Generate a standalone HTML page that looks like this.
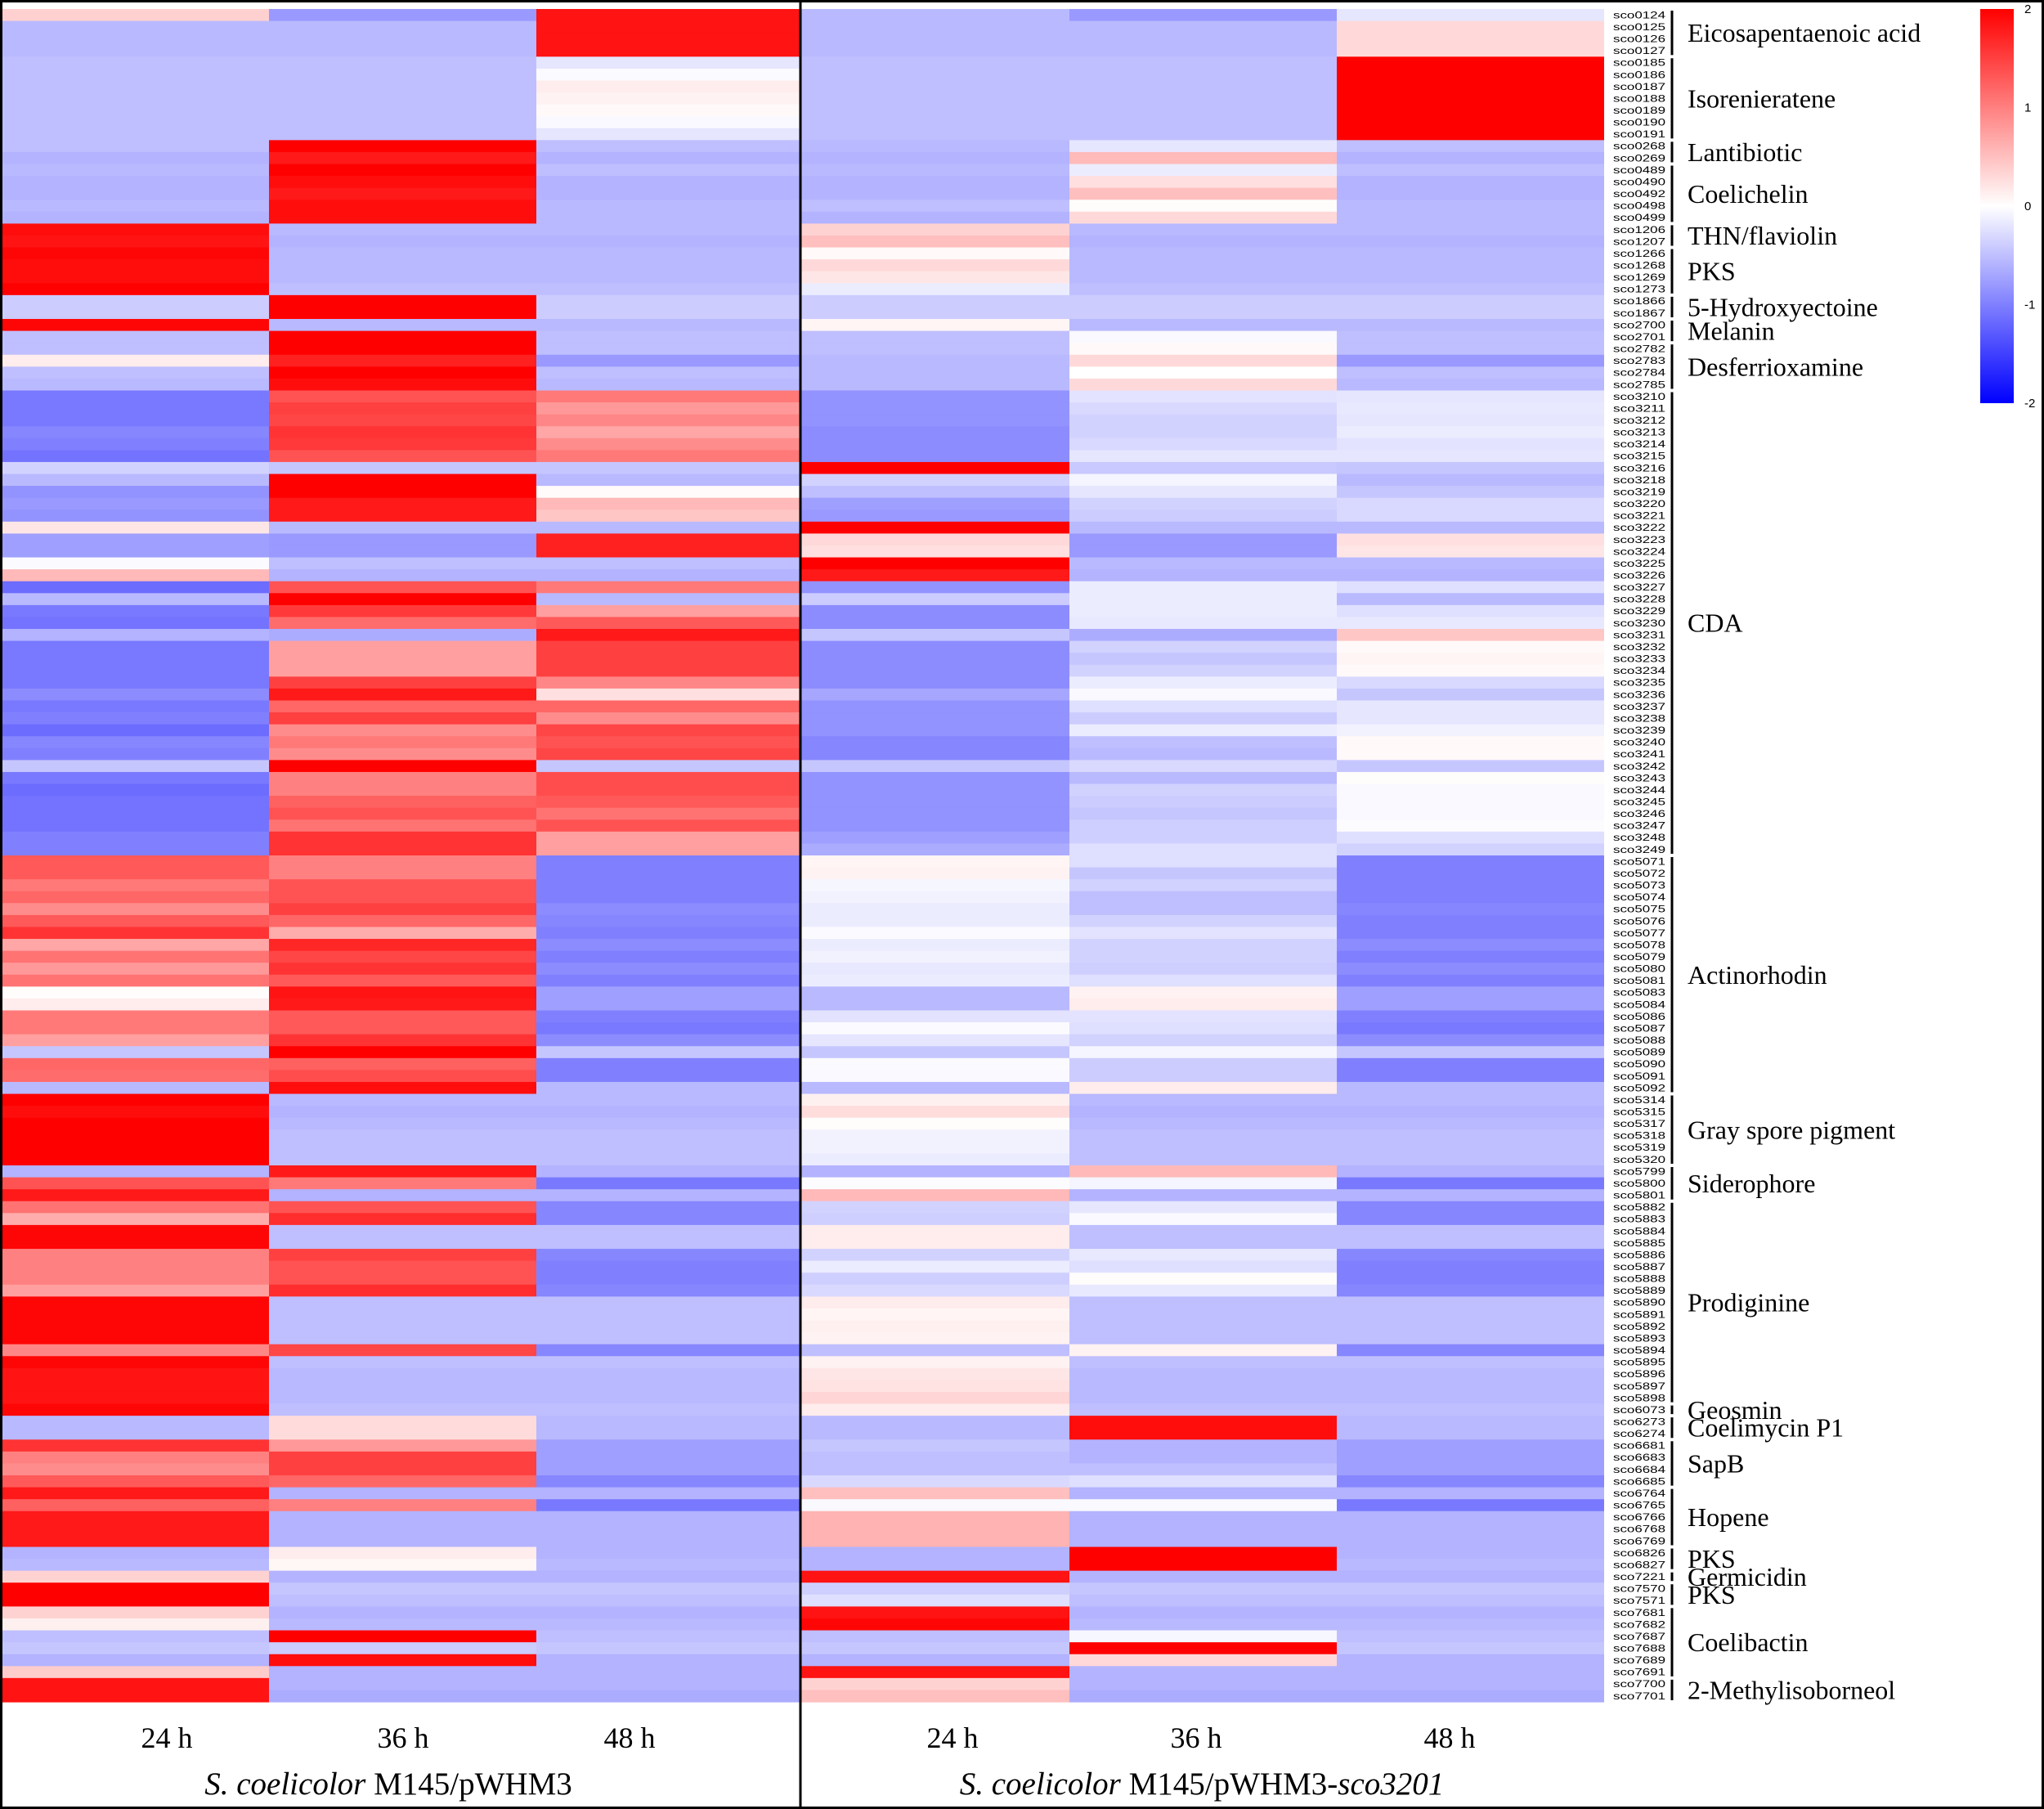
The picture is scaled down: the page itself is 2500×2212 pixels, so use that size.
<!DOCTYPE html>
<html><head><meta charset="utf-8"><style>
html,body{margin:0;padding:0;background:#fff;}
svg{display:block;}
</style></head><body>
<svg id="chart" width="2500" height="2212" viewBox="0 0 2500 2212" xmlns="http://www.w3.org/2000/svg" font-family="Liberation Serif, serif">
<rect x="1.5" y="1.5" width="2497" height="2209" fill="#fff" stroke="#000" stroke-width="3"/>
<g id="cells"></g>
<g id="genes"></g>
<g id="groups"></g>
<line x1="979" y1="0" x2="979" y2="2212" stroke="#000" stroke-width="3"/>
<defs><linearGradient id="cb" x1="0" y1="0" x2="0" y2="1">
<stop offset="0" stop-color="#ff0000"/><stop offset="0.5" stop-color="#ffffff"/><stop offset="1" stop-color="#0000ff"/></linearGradient></defs>
<rect x="2422" y="11" width="41" height="482" fill="url(#cb)"/>
<g id="cbticks" font-family="Liberation Sans, sans-serif" font-size="15"></g>
<g font-size="36" text-anchor="middle">
<text x="204" y="2137">24 h</text>
<text x="493" y="2137">36 h</text>
<text x="770" y="2137">48 h</text>
<text x="1165" y="2137">24 h</text>
<text x="1463" y="2137">36 h</text>
<text x="1773" y="2137">48 h</text>
</g>
<text x="475" y="2194" font-size="39" text-anchor="middle"><tspan font-style="italic">S. coelicolor</tspan> M145/pWHM3</text>
<text x="1470" y="2194" font-size="39" text-anchor="middle"><tspan font-style="italic">S. coelicolor</tspan> M145/pWHM3-<tspan font-style="italic">sco3201</tspan></text>
</svg>
<script>
const genes = ["sco0124","sco0125","sco0126","sco0127","sco0185","sco0186","sco0187","sco0188","sco0189","sco0190","sco0191","sco0268","sco0269","sco0489","sco0490","sco0492","sco0498","sco0499","sco1206","sco1207","sco1266","sco1268","sco1269","sco1273","sco1866","sco1867","sco2700","sco2701","sco2782","sco2783","sco2784","sco2785","sco3210","sco3211","sco3212","sco3213","sco3214","sco3215","sco3216","sco3218","sco3219","sco3220","sco3221","sco3222","sco3223","sco3224","sco3225","sco3226","sco3227","sco3228","sco3229","sco3230","sco3231","sco3232","sco3233","sco3234","sco3235","sco3236","sco3237","sco3238","sco3239","sco3240","sco3241","sco3242","sco3243","sco3244","sco3245","sco3246","sco3247","sco3248","sco3249","sco5071","sco5072","sco5073","sco5074","sco5075","sco5076","sco5077","sco5078","sco5079","sco5080","sco5081","sco5083","sco5084","sco5086","sco5087","sco5088","sco5089","sco5090","sco5091","sco5092","sco5314","sco5315","sco5317","sco5318","sco5319","sco5320","sco5799","sco5800","sco5801","sco5882","sco5883","sco5884","sco5885","sco5886","sco5887","sco5888","sco5889","sco5890","sco5891","sco5892","sco5893","sco5894","sco5895","sco5896","sco5897","sco5898","sco6073","sco6273","sco6274","sco6681","sco6683","sco6684","sco6685","sco6764","sco6765","sco6766","sco6768","sco6769","sco6826","sco6827","sco7221","sco7570","sco7571","sco7681","sco7682","sco7687","sco7688","sco7689","sco7691","sco7700","sco7701"];
const conditions = ["WT 24 h","WT 36 h","WT 48 h","sco3201 24 h","sco3201 36 h","sco3201 48 h"];
const values = [
[0.37,-0.8,1.85,-0.55,-0.8,-0.2],[-0.55,-0.55,1.85,-0.55,-0.55,0.3],[-0.55,-0.55,1.85,-0.55,-0.55,0.3],[-0.55,-0.55,1.85,-0.55,-0.55,0.3],
[-0.5,-0.5,-0.2,-0.5,-0.5,2],[-0.5,-0.5,-0.03,-0.5,-0.5,2],[-0.5,-0.5,0.15,-0.5,-0.5,2],[-0.5,-0.5,0.1,-0.5,-0.5,2],[-0.5,-0.5,0.05,-0.5,-0.5,2],[-0.5,-0.5,-0.05,-0.5,-0.5,2],[-0.5,-0.5,-0.2,-0.5,-0.5,2],
[-0.5,2,-0.5,-0.55,-0.2,-0.5],[-0.6,1.8,-0.6,-0.6,0.54,-0.6],
[-0.55,2,-0.5,-0.55,-0.15,-0.5],[-0.6,1.9,-0.6,-0.6,0.25,-0.6],[-0.6,1.8,-0.6,-0.6,0.5,-0.6],[-0.55,1.9,-0.55,-0.5,0.02,-0.55],[-0.6,1.9,-0.55,-0.6,0.3,-0.55],
[1.9,-0.55,-0.55,0.35,-0.55,-0.55],[1.85,-0.6,-0.6,0.5,-0.6,-0.6],
[1.95,-0.55,-0.55,0.05,-0.55,-0.55],[1.9,-0.55,-0.55,0.3,-0.55,-0.55],[1.9,-0.55,-0.55,0.2,-0.55,-0.55],[2,-0.5,-0.5,-0.15,-0.5,-0.5],
[-0.4,2,-0.4,-0.4,-0.4,-0.4],[-0.4,2,-0.4,-0.4,-0.4,-0.4],
[1.95,-0.55,-0.55,0.08,-0.55,-0.55],[-0.5,2,-0.5,-0.5,-0.05,-0.5],
[-0.5,2,-0.5,-0.5,0.05,-0.5],[0.15,1.75,-0.8,-0.55,0.3,-0.8],[-0.5,2,-0.5,-0.55,0.0,-0.5],[-0.55,1.9,-0.55,-0.55,0.3,-0.55],
[-1.05,1.35,1.05,-0.85,-0.22,-0.2],[-1.05,1.5,0.8,-0.85,-0.3,-0.18],[-1.05,1.45,0.95,-0.85,-0.35,-0.2],[-0.95,1.6,0.7,-0.9,-0.35,-0.15],[-1.0,1.55,0.9,-0.9,-0.3,-0.22],[-1.1,1.35,1.05,-0.9,-0.2,-0.2],
[-0.35,-0.45,-0.45,2,-0.42,-0.45],[-0.55,2,-0.55,-0.35,-0.08,-0.55],[-0.85,2,0.03,-0.5,-0.2,-0.45],[-0.8,1.8,0.55,-0.75,-0.35,-0.3],[-0.85,1.8,0.45,-0.8,-0.4,-0.3],
[0.2,-0.55,-0.55,2,-0.55,-0.55],[-0.75,-0.8,1.75,0.3,-0.8,0.25],[-0.75,-0.8,1.75,0.25,-0.8,0.2],[-0.03,-0.5,-0.5,2,-0.55,-0.55],[0.55,-0.6,-0.6,1.8,-0.6,-0.6],
[-1.15,1.35,1.05,-0.85,-0.15,-0.25],[-0.55,2,-0.55,-0.4,-0.15,-0.55],[-1.05,1.55,0.75,-0.9,-0.15,-0.25],[-1.1,1.15,1.3,-0.9,-0.18,-0.18],[-0.6,-0.65,1.8,-0.45,-0.65,0.45],
[-1.05,0.75,1.5,-0.9,-0.35,0.05],[-1.05,0.75,1.5,-0.9,-0.45,0.08],[-1.05,0.75,1.5,-0.9,-0.35,0.05],[-1.05,1.5,0.95,-0.9,-0.15,-0.3],[-0.9,1.8,0.25,-0.7,-0.05,-0.45],
[-1.05,1.2,1.2,-0.85,-0.25,-0.2],[-1.0,1.5,0.9,-0.85,-0.4,-0.2],[-1.15,0.9,1.45,-0.85,-0.15,-0.1],[-0.95,1.05,1.35,-0.95,-0.5,0.05],[-1.0,0.9,1.45,-0.95,-0.55,0.05],
[-0.45,2,-0.45,-0.45,-0.3,-0.45],[-1.05,1.0,1.4,-0.85,-0.55,0.02],[-1.15,1.0,1.4,-0.85,-0.35,-0.05],[-1.1,1.25,1.3,-0.85,-0.4,-0.05],[-1.1,1.35,1.1,-0.85,-0.45,-0.05],[-1.1,1.1,1.35,-0.85,-0.38,-0.02],[-1.0,1.6,0.75,-0.75,-0.38,-0.25],[-1.0,1.6,0.75,-0.65,-0.25,-0.35],
[1.3,1.0,-1.0,0.08,-0.25,-1.0],[1.3,1.0,-1.0,0.1,-0.45,-1.0],[1.05,1.35,-1.0,-0.07,-0.35,-1.0],[1.2,1.35,-1.0,-0.1,-0.5,-1.0],[0.9,1.5,-0.9,-0.15,-0.5,-0.95],[1.3,1.2,-0.95,-0.15,-0.35,-1.0],[1.6,0.65,-1.0,-0.03,-0.22,-1.0],[0.7,1.7,-0.9,-0.15,-0.35,-0.9],[1.1,1.45,-1.0,-0.1,-0.35,-1.0],[0.8,1.6,-0.9,-0.18,-0.38,-0.9],[1.1,1.3,-1.0,-0.15,-0.25,-1.0],
[0.02,1.85,-0.75,-0.55,0.1,-0.75],[0.15,1.8,-0.75,-0.55,0.15,-0.75],[1.05,1.3,-1.0,-0.22,-0.22,-1.0],[1.05,1.3,-1.05,-0.03,-0.25,-1.05],[0.75,1.6,-0.9,-0.2,-0.35,-0.9],[-0.45,2,-0.45,-0.45,-0.08,-0.45],[1.2,1.25,-1.0,-0.03,-0.4,-1.0],[1.15,1.4,-1.0,-0.05,-0.4,-1.0],[-0.55,1.9,-0.55,-0.55,0.15,-0.55],
[2,-0.55,-0.55,0.12,-0.55,-0.55],[1.9,-0.6,-0.6,0.27,-0.6,-0.6],[2,-0.55,-0.55,0.02,-0.55,-0.55],[2,-0.5,-0.5,-0.1,-0.5,-0.5],[2,-0.5,-0.5,-0.1,-0.5,-0.5],[2,-0.5,-0.5,-0.15,-0.5,-0.5],
[-0.6,1.8,-0.6,-0.6,0.55,-0.6],[1.35,1.05,-1.05,-0.02,-0.08,-1.05],[1.8,-0.6,-0.6,0.55,-0.6,-0.6],
[1.1,1.35,-0.95,-0.35,-0.2,-0.95],[0.65,1.65,-0.95,-0.38,-0.05,-0.95],[1.95,-0.5,-0.5,0.15,-0.5,-0.5],[1.95,-0.5,-0.5,0.15,-0.5,-0.5],[1.0,1.5,-0.95,-0.35,-0.18,-0.95],[1.0,1.35,-1.0,-0.15,-0.25,-1.0],[1.0,1.35,-1.0,-0.38,0.02,-1.0],[0.75,1.65,-0.95,-0.3,-0.18,-0.95],
[1.95,-0.5,-0.5,0.15,-0.5,-0.5],[1.95,-0.5,-0.5,0.08,-0.5,-0.5],[1.95,-0.5,-0.5,0.12,-0.5,-0.5],[1.95,-0.5,-0.5,0.1,-0.5,-0.5],[0.95,1.45,-0.95,-0.5,0.1,-0.95],[1.95,-0.5,-0.5,0.1,-0.5,-0.5],[1.85,-0.55,-0.55,0.2,-0.55,-0.55],[1.85,-0.55,-0.55,0.22,-0.55,-0.55],[1.85,-0.55,-0.55,0.33,-0.55,-0.55],
[1.95,-0.5,-0.5,0.15,-0.5,-0.5],
[-0.55,0.28,-0.55,-0.55,1.9,-0.55],[-0.55,0.28,-0.55,-0.55,1.9,-0.55],
[1.6,0.8,-0.75,-0.45,-0.6,-0.75],[1.0,1.5,-0.75,-0.5,-0.6,-0.75],[0.9,1.5,-0.75,-0.5,-0.5,-0.75],[1.3,1.2,-0.95,-0.3,-0.25,-0.95],
[1.8,-0.6,-0.6,0.5,-0.6,-0.6],[1.25,1.0,-1.05,-0.05,-0.05,-1.05],[1.8,-0.6,-0.6,0.6,-0.6,-0.6],[1.8,-0.6,-0.6,0.6,-0.6,-0.6],[1.8,-0.6,-0.6,0.6,-0.6,-0.6],
[-0.6,0.15,-0.6,-0.6,2,-0.6],[-0.55,0.07,-0.55,-0.6,2,-0.55],
[0.35,-0.6,-0.6,1.85,-0.6,-0.6],
[2,-0.45,-0.45,-0.38,-0.45,-0.45],[2,-0.5,-0.5,-0.25,-0.5,-0.5],
[0.35,-0.6,-0.6,1.85,-0.6,-0.6],[0.12,-0.55,-0.55,1.95,-0.55,-0.55],[-0.5,2,-0.5,-0.5,-0.06,-0.5],[-0.45,-0.4,-0.45,-0.45,2,-0.45],[-0.6,1.9,-0.6,-0.6,0.3,-0.6],[0.4,-0.6,-0.6,1.85,-0.6,-0.6],
[1.85,-0.6,-0.6,0.35,-0.6,-0.6],[1.85,-0.65,-0.65,0.5,-0.65,-0.65]
];
const groupNames = ["Eicosapentaenoic acid","Isorenieratene","Lantibiotic","Coelichelin","THN/flaviolin","PKS","5-Hydroxyectoine","Melanin","Desferrioxamine","CDA","Actinorhodin","Gray spore pigment","Siderophore","Prodiginine","Geosmin","Coelimycin P1","SapB","Hopene","PKS","Germicidin","PKS","Coelibactin","2-Methylisoborneol"];
const groupStart = [0,4,11,13,18,20,24,26,28,32,71,91,97,100,117,118,120,124,129,131,132,134,140];
const groupEnd   = [3,10,12,17,19,23,25,27,31,70,90,96,99,116,117,119,123,128,130,131,133,139,141];
const scaleTicks = [2,1,0,-1,-2];

const NS = "http://www.w3.org/2000/svg";
const top0 = 11, bottom0 = 2081, colEdges = [3,329,656,979,1308,1635,1962];
const rowH = (bottom0 - top0) / genes.length;
const yOf = i => top0 + i * rowH;
const xOf = j => colEdges[j];
function color(v){
  v = Math.max(-2, Math.min(2, v));
  if (v >= 0){ const c = Math.round(255*(1-v/2)); return `rgb(255,${c},${c})`; }
  const c = Math.round(255*(1+v/2)); return `rgb(${c},${c},255)`;
}
const cells = document.getElementById('cells');
values.forEach((row, i) => {
  row.forEach((v, j) => {
    const r = document.createElementNS(NS, 'rect');
    r.setAttribute('x', xOf(j)); r.setAttribute('y', yOf(i));
    r.setAttribute('width', xOf(j+1) - xOf(j)); r.setAttribute('height', rowH + 0.6);
    r.setAttribute('fill', color(v));
    
    
    cells.appendChild(r);
  });
});
const gl = document.getElementById('genes');
genes.forEach((g, i) => {
  const t = document.createElementNS(NS, 'text');
  t.setAttribute('x', 1973); t.setAttribute('y', yOf(i) + rowH*0.78);
  t.setAttribute('font-family', 'Liberation Sans, sans-serif');
  t.setAttribute('font-size', '12');
  t.setAttribute('textLength', '64'); t.setAttribute('lengthAdjust', 'spacingAndGlyphs');
  t.textContent = g;
  
  
  gl.appendChild(t);
});
const gg = document.getElementById('groups');
groupNames.forEach((n, k) => {
  const y1 = yOf(groupStart[k]) + 2, y2 = yOf(groupEnd[k] + 1) - 2;
  const l = document.createElementNS(NS, 'line');
  l.setAttribute('x1', 2045); l.setAttribute('x2', 2045);
  l.setAttribute('y1', y1); l.setAttribute('y2', y2);
  l.setAttribute('stroke', '#000'); l.setAttribute('stroke-width', '3');
  
  
  gg.appendChild(l);
  const t = document.createElementNS(NS, 'text');
  t.setAttribute('x', 2064); t.setAttribute('y', (y1 + y2)/2 + 11);
  t.setAttribute('font-size', '32');
  t.textContent = n;
  
  
  gg.appendChild(t);
});
const cb = document.getElementById('cbticks');
scaleTicks.forEach(v => {
  const y = 11 + (2 - v) / 4 * 482;
  const t = document.createElementNS(NS, 'text');
  t.setAttribute('x', 2476); t.setAttribute('y', y + 5);
  t.textContent = v;
  
  
  cb.appendChild(t);
});
</script>
</body></html>
